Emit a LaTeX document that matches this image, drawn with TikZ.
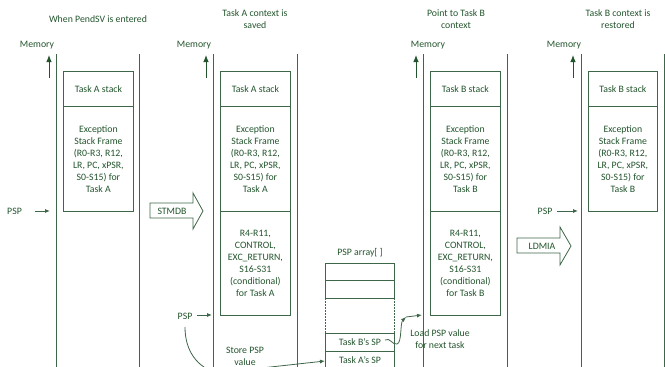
\documentclass[tikz,border=0pt]{standalone}
\usepackage{fontspec}
\setmainfont{Carlito}
\usetikzlibrary{arrows.meta}
\definecolor{ln}{RGB}{62,102,72}
\definecolor{tx}{RGB}{35,85,45}
\begin{document}
\begin{tikzpicture}[x=1pt,y=-1pt,
  font=\fontsize{9.8}{12}\selectfont,
  vline/.style={draw=ln, line width=0.8pt},
  box/.style={draw=ln, line width=0.8pt, fill=white, inner sep=0pt, align=center, text=tx, anchor=north west},
  lbl/.style={text=tx, align=center, inner sep=0pt},
  arr/.style={draw=ln, line width=0.8pt, -{Latex[length=5pt,width=4pt]}},
  memarr/.style={draw=tx, line width=0.9pt, -{Latex[length=7pt,width=5.5pt]}},
  blockarr/.style={draw=ln, line width=0.8pt, fill=white, line join=miter}]
\useasboundingbox (0,0) rectangle (665,367);
\clip (0,0) rectangle (665,367);

% titles
\node[lbl] (t1) at (98,19) {When PendSV is entered};
\node[lbl] (t2) at (255,19) {Task A context is\\saved};
\node[lbl] (t3) at (456,19) {Point to Task B\\context};
\node[lbl] (t4) at (618,19) {Task B context is\\restored};

% memory labels and arrows
\node[lbl] (m1) at (37,45) {Memory};
\node[lbl] (m2) at (194,45) {Memory};
\node[lbl] (m3) at (428,45) {Memory};
\node[lbl] (m4) at (564,45) {Memory};
\coordinate (m1a) at (49,78); \coordinate (m1b) at (49,55);
\coordinate (m2a) at (206,78); \coordinate (m2b) at (206,55);
\coordinate (m3a) at (416,78); \coordinate (m3b) at (416,55);
\coordinate (m4a) at (573,78); \coordinate (m4b) at (573,55);
\draw[memarr] (m1a) -- (m1b);
\draw[memarr] (m2a) -- (m2b);
\draw[memarr] (m3a) -- (m3b);
\draw[memarr] (m4a) -- (m4b);

% vertical lines
\draw[vline] (56,54) -- (56,367);
\draw[vline] (139.5,54) -- (139.5,367);
\draw[vline] (213,54) -- (213,367);
\draw[vline] (297,54) -- (297,367);
\draw[vline] (423,54) -- (423,367);
\draw[vline] (507,54) -- (507,367);
\draw[vline] (581,54) -- (581,367);
\draw[vline] (664,54) -- (664,367);

% panel 1
\node[box, minimum width=70pt, minimum height=35pt] (a1s) at (63,71) {Task A stack};
\node[box, minimum width=70pt, minimum height=105pt] (a1e) at (63,106) {Exception\\Stack Frame\\(R0-R3, R12,\\LR, PC, xPSR,\\S0-S15) for\\Task A};
% panel 2
\node[box, minimum width=70pt, minimum height=35pt] (a2s) at (220,71) {Task A stack};
\node[box, minimum width=70pt, minimum height=105pt] (a2e) at (220,106) {Exception\\Stack Frame\\(R0-R3, R12,\\LR, PC, xPSR,\\S0-S15) for\\Task A};
\node[box, minimum width=70pt, minimum height=104pt] (a2r) at (220,211) {R4-R11,\\CONTROL,\\EXC\_RETURN,\\S16-S31\\(conditional)\\for Task A};
% panel 3
\node[box, minimum width=70pt, minimum height=35pt] (b3s) at (430,71) {Task B stack};
\node[box, minimum width=70pt, minimum height=105pt] (b3e) at (430,106) {Exception\\Stack Frame\\(R0-R3, R12,\\LR, PC, xPSR,\\S0-S15) for\\Task B};
\node[box, minimum width=70pt, minimum height=104pt] (b3r) at (430,211) {R4-R11,\\CONTROL,\\EXC\_RETURN,\\S16-S31\\(conditional)\\for Task B};
% panel 4
\node[box, minimum width=69pt, minimum height=35pt] (b4s) at (588,71) {Task B stack};
\node[box, minimum width=69pt, minimum height=105pt] (b4e) at (588,106) {Exception\\Stack Frame\\(R0-R3, R12,\\LR, PC, xPSR,\\S0-S15) for\\Task B};

% PSP pointers
\node[lbl] (psp1) at (14.5,211) {PSP};
\coordinate (p1s) at (35,211); \coordinate (p1e) at (50,211);
\draw[arr] (p1s) -- (p1e);
\node[lbl] (psp2) at (185,316) {PSP};
\coordinate (p2s) at (197,315); \coordinate (p2e) at (212,315);
\draw[arr] (p2s) -- (p2e);
\node[lbl] (psp4) at (545,211) {PSP};
\coordinate (p4s) at (557,211); \coordinate (p4e) at (578,211);
\draw[arr] (p4s) -- (p4e);

% block arrows
\draw[blockarr] (150,203) -- (193,203) -- (193,193) -- (203,211) -- (193,229) -- (193,218) -- (150,218) -- cycle;
\node[lbl] (stm) at (172,211) {STMDB};
\draw[blockarr] (517,238) -- (560,238) -- (560,227) -- (571,246) -- (560,265) -- (560,253) -- (517,253) -- cycle;
\node[lbl] (ldm) at (542,246) {LDMIA};

% PSP array
\node[lbl] (arrt) at (360,253) {PSP array[ ]};
\node[box, minimum width=69pt, minimum height=17pt] (e1) at (325,263) {};
\node[box, minimum width=69pt, minimum height=18pt] (e2) at (325,280) {};
\draw[draw=ln, line width=0.8pt, dash pattern=on 1.5pt off 1.5pt] (325,298) -- (325,333);
\draw[draw=ln, line width=0.8pt, dash pattern=on 1.5pt off 1.5pt] (394,298) -- (394,333);
\node[box, minimum width=69pt, minimum height=18pt] (tbsp) at (325,333) {Task B's SP};
\node[box, minimum width=69pt, minimum height=22pt] (tasp) at (325,351) {};
\node[lbl] (taspt) at (360,360) {Task A's SP};

% store PSP
\coordinate (sc0) at (185,327);
\draw[arr] (sc0) .. controls (185,352) and (198,367) .. (216,373) -- (tasp.west |- 0,361);
\node[lbl, fill=white] (store) at (245,356.5) {Store PSP\\value};

% load PSP
\coordinate (ls) at (385,340);
\coordinate (lm) at (397,344);
\coordinate (lp) at (406,317);
\coordinate (lt) at (422,315);
\draw[arr] (ls) .. controls (390,337) and (392,345) .. (lm) .. controls (402,343) and (400,323) .. (lp);
\draw[arr] (lp) -- (lt);
\node[lbl] (load) at (440,339.5) {Load PSP value\\for next task};
\end{tikzpicture}
\end{document}
